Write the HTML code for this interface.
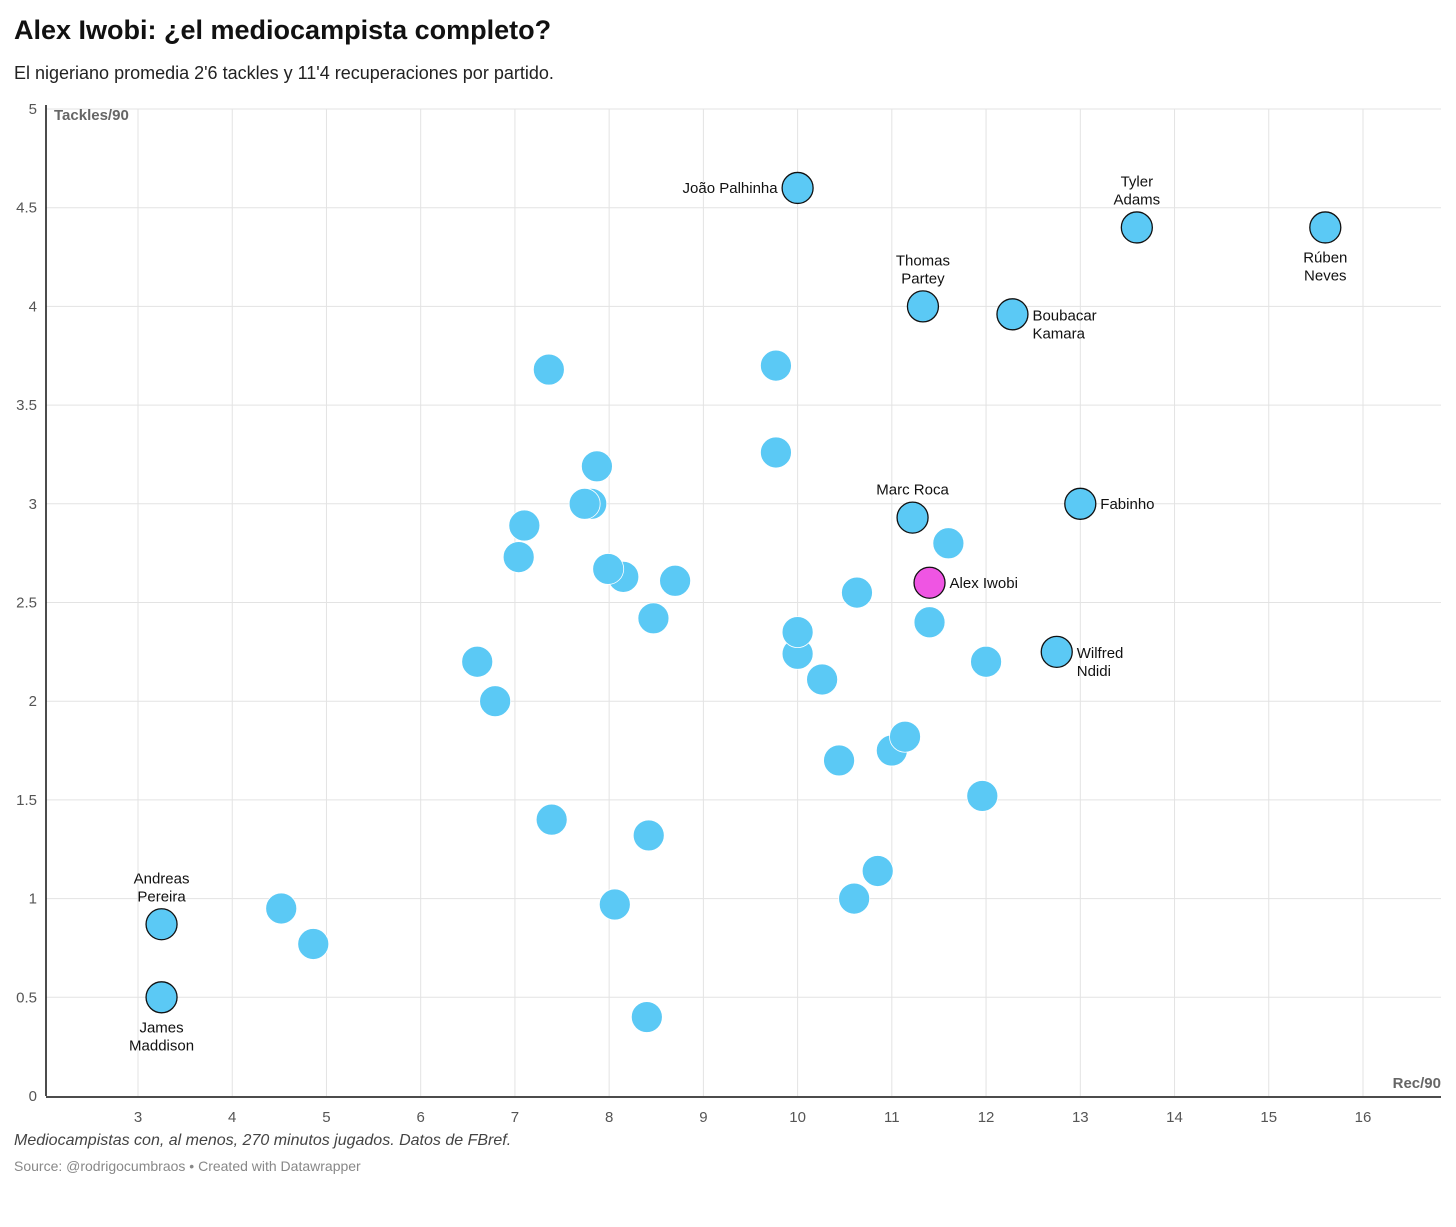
<!DOCTYPE html>
<html><head><meta charset="utf-8"><style>
body{margin:0;background:#fff;font-family:"Liberation Sans",sans-serif;}
#wrap{position:relative;width:1456px;height:1227px;overflow:hidden}
.t{position:absolute;white-space:nowrap}
</style></head><body>
<div id="wrap">
<div class="t" style="left:14px;top:15px;font-size:27px;font-weight:bold;color:#111">Alex Iwobi: ¿el mediocampista completo?</div>
<div class="t" style="left:14px;top:63px;font-size:18px;color:#222">El nigeriano promedia 2'6 tackles y 11'4 recuperaciones por partido.</div>
<svg id="chart" width="1456" height="1227" style="position:absolute;left:0;top:0"></svg>
<div class="t" style="left:14px;top:1132px;font-size:16px;font-style:italic;color:#444">Mediocampistas con, al menos, 270 minutos jugados. Datos de FBref.</div>
<div class="t" style="left:14px;top:1158px;font-size:14px;color:#888">Source: @rodrigocumbraos • Created with Datawrapper</div>
</div>
<script>
const xTicks=[3,4,5,6,7,8,9,10,11,12,13,14,15,16];
const yTicks=[0,0.5,1,1.5,2,2.5,3,3.5,4,4.5,5];
const recValues=[10.0,13.6,15.6,11.33,12.28,11.22,13.0,11.4,12.75,3.25,3.25,
7.36,9.77,9.77,7.87,7.74,7.81,7.1,7.04,11.6,7.99,8.15,8.7,10.63,8.47,11.4,10.0,10.0,6.6,12.0,10.26,6.79,11.14,11.0,10.44,11.96,7.39,8.42,10.85,10.6,8.06,4.52,4.86,8.4];
const tackleValues=[4.6,4.4,4.4,4.0,3.96,2.93,3.0,2.6,2.25,0.87,0.5,
3.68,3.70,3.26,3.19,3.0,3.0,2.89,2.73,2.8,2.67,2.63,2.61,2.55,2.42,2.40,2.35,2.24,2.2,2.2,2.11,2.0,1.82,1.75,1.70,1.52,1.40,1.32,1.14,1.0,0.97,0.95,0.77,0.40];
const playerNames=["João Palhinha","Tyler|Adams","Rúben|Neves","Thomas|Partey","Boubacar|Kamara","Marc Roca","Fabinho","Alex Iwobi","Wilfred|Ndidi","Andreas|Pereira","James|Maddison"];
const labelPos=["left","above","below","above","right","above","right","right","right","above","below"];

const NS="http://www.w3.org/2000/svg";
const svg=document.getElementById('chart');
const X=v=>138+(v-3)*94.23;
const Y=v=>1096-v*197.4;
function mk(tag,a,p){const e=document.createElementNS(NS,tag);for(const k in a)e.setAttribute(k,a[k]);(p||svg).appendChild(e);return e;}
const L=46,R=1441;
yTicks.forEach(t=>{
 if(t>0){const g=mk('line',{x1:L,x2:R,y1:Y(t),y2:Y(t),stroke:'#e3e3e3','stroke-width':1});
 
 }
 const tx=mk('text',{x:37,y:Y(t)+5,'text-anchor':'end','font-size':15,fill:'#555','font-family':'Liberation Sans'});tx.textContent=t;
 
 
});
xTicks.forEach(t=>{
 const g=mk('line',{x1:X(t),x2:X(t),y1:Y(5),y2:Y(0),stroke:'#e3e3e3','stroke-width':1});
 
 
 const tx=mk('text',{x:X(t),y:1122,'text-anchor':'middle','font-size':15,fill:'#555','font-family':'Liberation Sans'});tx.textContent=t;
 
 
});
const ax=mk('line',{x1:L,x2:L,y1:105,y2:Y(0),stroke:'#111','stroke-width':1.5});


const bx=mk('line',{x1:L,x2:R,y1:Y(0)+1,y2:Y(0)+1,stroke:'#111','stroke-width':1.5});


const yt=mk('text',{x:54,y:120,'font-size':15,'font-weight':'bold',fill:'#666','font-family':'Liberation Sans'});yt.textContent='Tackles/90';


const xt=mk('text',{x:1441,y:1088,'text-anchor':'end','font-size':15,'font-weight':'bold',fill:'#666','font-family':'Liberation Sans'});xt.textContent='Rec/90';



const order=[];for(let i=recValues.length-1;i>=0;i--)order.push(i);
order.forEach(i=>{
 const lab=i<playerNames.length;
 const c=mk('circle',{cx:X(recValues[i]),cy:Y(tackleValues[i]),r:15.5,
  fill:i===7?'#ef55e3':'#5bc9f5',stroke:lab?'#111':'#fff','stroke-width':lab?1.3:0.8});
 
 
 if(!lab)return;
 const cx=X(recValues[i]),cy=Y(tackleValues[i]);
 const lines=playerNames[i].split('|');const pos=labelPos[i];
 let x=cx,y,anchor='middle';
 if(pos==='above'){y=cy-23-(lines.length-1)*18;}
 else if(pos==='below'){y=cy+35;}
 else if(pos==='right'){x=cx+20;anchor='start';y=lines.length>1?cy+6:cy+5;}
 else {x=cx-20;anchor='end';y=cy+5;}
 const tx=mk('text',{x:x,y:y,'text-anchor':anchor,'font-size':15,fill:'#111','font-family':'Liberation Sans'});
 
 
 lines.forEach((l,k)=>{const s=mk('tspan',{x:x,dy:k?18:0},tx);s.textContent=l;});
});
</script>
</body></html>
